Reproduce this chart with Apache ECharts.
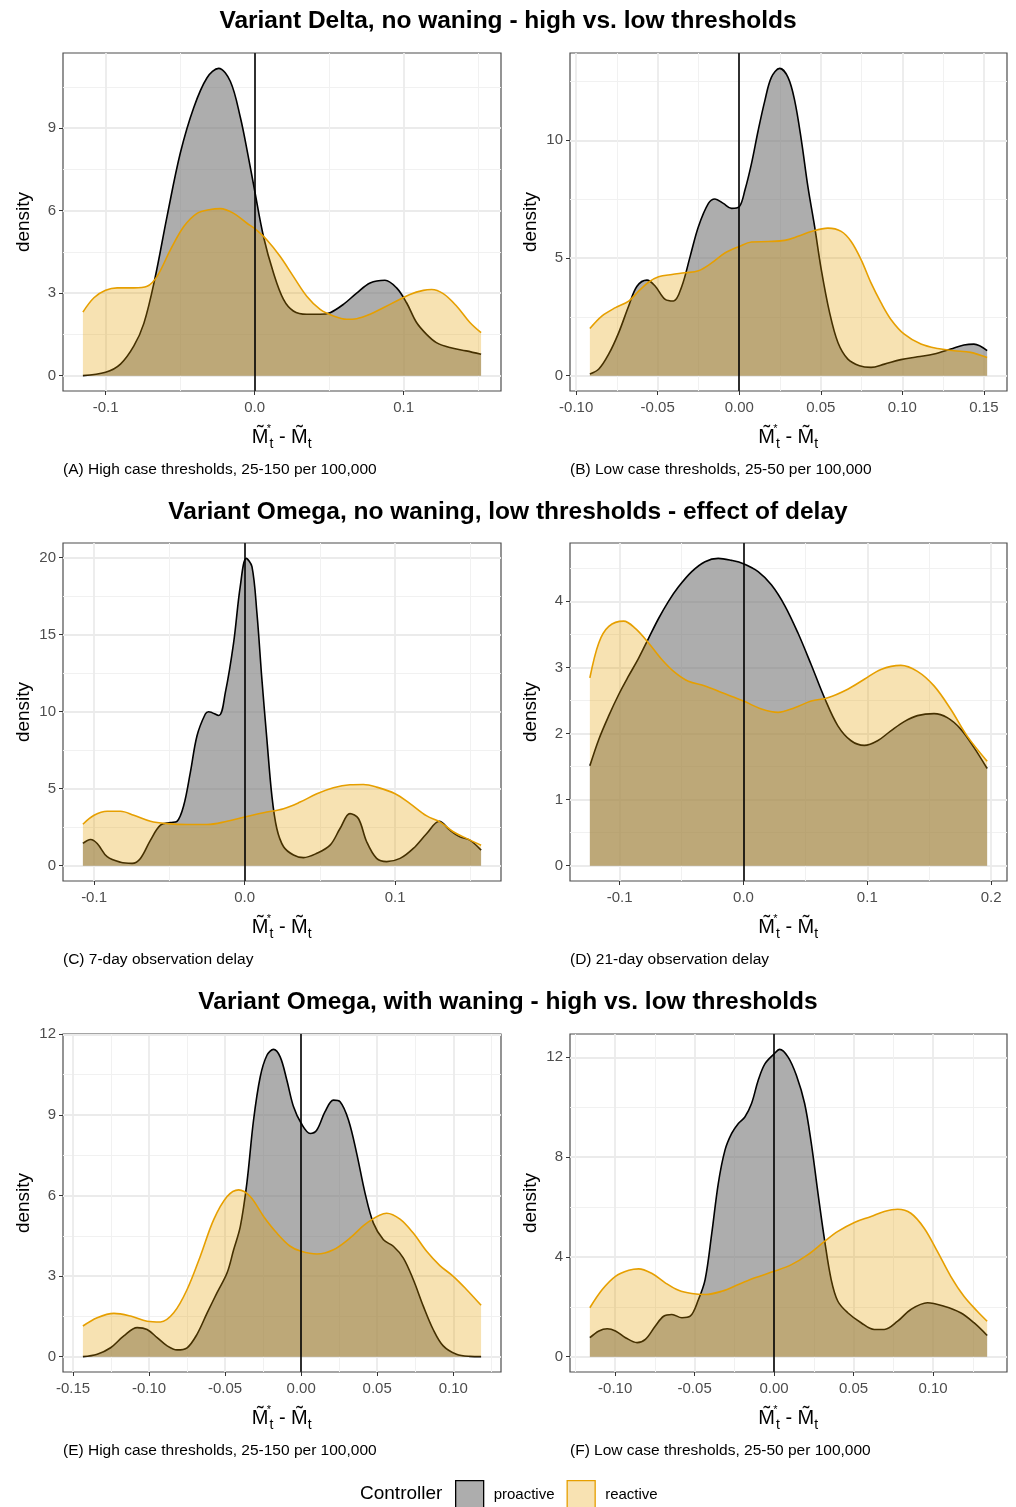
<!DOCTYPE html>
<html><head><meta charset="utf-8">
<script src="https://cdn.jsdelivr.net/npm/echarts@6/dist/echarts.min.js"></script>
<style>html,body{margin:0;padding:0;background:#fff}#c{width:1016px;height:1507px}</style>
</head><body><div id="c"></div>
<script>
// ---------- Data ----------
const sectionTitles = [
  'Variant Delta, no waning - high vs. low thresholds',
  'Variant Omega, no waning, low thresholds - effect of delay',
  'Variant Omega, with waning - high vs. low thresholds'
];
const captions = [
  '(A) High case thresholds, 25-150 per 100,000',
  '(B) Low case thresholds, 25-50 per 100,000',
  '(C) 7-day observation delay',
  '(D) 21-day observation delay',
  '(E) High case thresholds, 25-150 per 100,000',
  '(F) Low case thresholds, 25-50 per 100,000'
];
const controllers = ['proactive', 'reactive'];

// Panel A
const A_proX = [-0.1152,-0.1,-0.09,-0.081,-0.0743,-0.067,-0.0587,-0.0498,-0.0408,-0.0319,-0.0241,-0.0163,-0.0096,-0.004,0,0.006,0.0127,0.0194,0.026,0.035,0.044,0.0507,0.0596,0.0685,0.0775,0.0875,0.0953,0.102,0.1087,0.1154,0.122,0.131,0.142,0.152];
const A_proY = [0,0.12,0.42,1.08,1.9,3.5,5.8,8.1,9.75,10.83,11.17,10.7,9.4,7.9,6.74,5.05,3.73,2.77,2.35,2.23,2.23,2.29,2.59,3.0,3.37,3.47,3.19,2.65,1.93,1.5,1.2,1.02,0.9,0.78];
const A_reaX = [-0.1152,-0.1078,-0.1,-0.0922,-0.081,-0.0721,-0.0654,-0.0565,-0.0475,-0.0386,-0.0297,-0.023,-0.014,-0.0051,0,0.0083,0.0172,0.026,0.035,0.044,0.0529,0.0618,0.0685,0.0775,0.0864,0.0953,0.1042,0.1132,0.1188,0.1266,0.1355,0.1445,0.152];
const A_reaY = [2.31,2.83,3.1,3.19,3.19,3.25,3.61,4.57,5.42,5.9,6.04,6.07,5.9,5.54,5.35,4.93,4.33,3.61,2.89,2.41,2.17,2.05,2.07,2.23,2.47,2.71,2.95,3.1,3.13,2.98,2.53,1.93,1.56];
const A_xTicks = [-0.1, 0, 0.1];
const A_xMinor = [-0.05, 0.05, 0.15];
const A_yTicks = [0, 3, 6, 9];
const A_yMinor = [1.5, 4.5, 7.5, 10.5];

// Panel B
const B_proX = [-0.0916,-0.0861,-0.08,-0.0739,-0.0678,-0.0627,-0.0566,-0.0515,-0.0454,-0.0403,-0.0352,-0.0301,-0.025,-0.0189,-0.0149,-0.0098,-0.0047,0,0.0035,0.0075,0.0116,0.0157,0.0197,0.0248,0.0299,0.034,0.0381,0.0421,0.0462,0.0503,0.0554,0.0605,0.0666,0.0737,0.0808,0.089,0.0991,0.1093,0.1195,0.1297,0.1378,0.1439,0.152];
const B_proY = [0.07,0.28,0.92,1.83,2.96,3.8,4.06,3.8,3.24,3.17,3.8,5.07,6.34,7.32,7.51,7.32,7.11,7.18,7.89,9.01,10.42,11.69,12.68,13.06,12.68,11.69,10.0,8.03,6.34,4.51,2.68,1.41,0.7,0.42,0.35,0.49,0.68,0.8,0.92,1.13,1.3,1.34,1.06];
const B_reaX = [-0.0916,-0.0841,-0.0759,-0.0678,-0.0617,-0.0556,-0.0495,-0.0413,-0.0332,-0.025,-0.0169,-0.0088,0,0.0075,0.0177,0.0279,0.036,0.0442,0.0544,0.0625,0.0686,0.0747,0.0808,0.0869,0.093,0.1012,0.1114,0.1216,0.1317,0.1419,0.152];
const B_reaY = [2.0,2.54,2.89,3.17,3.59,3.97,4.2,4.3,4.37,4.46,4.79,5.21,5.49,5.68,5.7,5.75,5.92,6.13,6.27,6.13,5.7,4.93,3.94,3.1,2.39,1.76,1.34,1.15,1.06,0.99,0.77];
const B_xTicks = [-0.1, -0.05, 0, 0.05, 0.1, 0.15];
const B_xMinor = [-0.075, -0.025, 0.025, 0.075, 0.125];
const B_yTicks = [0, 5, 10];
const B_yMinor = [2.5, 7.5, 12.5];

// Panel C
const C_proX = [-0.1074,-0.1023,-0.0979,-0.0913,-0.0824,-0.0747,-0.0692,-0.0625,-0.0559,-0.0493,-0.0449,-0.0404,-0.036,-0.0316,-0.0261,-0.0239,-0.0172,-0.0128,-0.0073,-0.0029,0.0011,0.0049,0.0082,0.0115,0.0148,0.0181,0.0214,0.0259,0.0325,0.0391,0.048,0.0568,0.0634,0.07,0.0756,0.0811,0.0877,0.0944,0.1033,0.1121,0.121,0.1293,0.1364,0.143,0.1496,0.1571];
const C_proY = [1.44,1.7,1.44,0.58,0.22,0.15,0.47,1.66,2.63,2.8,2.88,3.92,6.07,8.44,9.85,10.0,9.75,11.24,14.47,18.13,19.96,19.42,16.4,12.1,8.22,4.56,2.41,1.23,0.69,0.52,0.8,1.33,2.41,3.38,3.06,1.55,0.47,0.26,0.47,1.12,2.09,2.88,2.3,1.87,1.66,1.01];
const C_reaX = [-0.1074,-0.1,-0.0913,-0.0824,-0.0736,-0.0625,-0.0515,-0.0382,-0.025,-0.0117,0,0.0126,0.0259,0.0369,0.048,0.059,0.07,0.0789,0.0877,0.1,0.1099,0.121,0.1297,0.1386,0.1474,0.1571];
const C_reaY = [2.69,3.27,3.53,3.53,3.27,2.88,2.73,2.67,2.67,2.88,3.16,3.44,3.7,4.13,4.67,5.06,5.25,5.27,5.1,4.67,4.03,3.23,2.84,2.2,1.77,1.33];
const C_xTicks = [-0.1, 0, 0.1];
const C_xMinor = [-0.05, 0.05, 0.15];
const C_yTicks = [0, 5, 10, 15, 20];
const C_yMinor = [2.5, 7.5, 12.5, 17.5];

// Panel D
const D_proX = [-0.1241,-0.1169,-0.1088,-0.1008,-0.0928,-0.0847,-0.0767,-0.0686,-0.0606,-0.0525,-0.0418,-0.0311,-0.0204,-0.0097,0,0.0118,0.0225,0.0332,0.044,0.0547,0.0654,0.0761,0.0869,0.0976,0.1083,0.119,0.1298,0.1405,0.1539,0.1646,0.1753,0.1861,0.1968];
const D_proY = [1.51,1.91,2.27,2.59,2.87,3.14,3.44,3.74,4.0,4.22,4.45,4.6,4.65,4.62,4.57,4.45,4.25,3.94,3.52,3.04,2.54,2.12,1.89,1.82,1.89,2.04,2.18,2.27,2.3,2.24,2.07,1.79,1.47];
const D_reaX = [-0.1241,-0.1169,-0.1088,-0.0968,-0.0874,-0.0767,-0.066,-0.0552,-0.0445,-0.0311,-0.0177,0,0.0145,0.0279,0.0413,0.0547,0.0681,0.0842,0.0976,0.111,0.1271,0.1405,0.1539,0.1673,0.1807,0.1968];
const D_reaY = [2.84,3.37,3.62,3.7,3.59,3.37,3.12,2.92,2.79,2.72,2.62,2.49,2.37,2.32,2.39,2.49,2.54,2.67,2.82,2.97,3.03,2.94,2.72,2.37,1.96,1.58];
const D_xTicks = [-0.1, 0, 0.1, 0.2];
const D_xMinor = [-0.05, 0.05, 0.15];
const D_yTicks = [0, 1, 2, 3, 4];
const D_yMinor = [0.5, 1.5, 2.5, 3.5, 4.5];

// Panel E
const E_proX = [-0.1435,-0.1341,-0.1253,-0.1166,-0.1078,-0.1013,-0.0947,-0.0881,-0.0816,-0.075,-0.0685,-0.0618,-0.0553,-0.0487,-0.0444,-0.04,-0.0357,-0.0313,-0.0269,-0.0225,-0.0182,-0.0138,-0.0094,-0.005,0,0.0059,0.0103,0.0157,0.0212,0.0256,0.0311,0.0365,0.042,0.0475,0.0541,0.0606,0.0672,0.0737,0.0803,0.0868,0.0934,0.1021,0.1109,0.1183];
const E_proY = [0,0.09,0.33,0.77,1.08,1.01,0.71,0.4,0.25,0.33,0.83,1.63,2.38,3.12,3.98,4.85,6.46,8.81,10.42,11.22,11.44,11.16,10.29,9.3,8.69,8.31,8.44,9.12,9.55,9.49,8.81,7.57,6.09,4.97,4.35,4.11,3.67,2.87,1.88,1.01,0.4,0.09,0.01,0];
const E_reaX = [-0.1435,-0.1341,-0.1231,-0.1122,-0.1013,-0.0925,-0.0838,-0.075,-0.0663,-0.0575,-0.0487,-0.0411,-0.0335,-0.0247,-0.016,-0.0072,0,0.0103,0.0212,0.0322,0.0431,0.0562,0.065,0.0737,0.0825,0.0912,0.1,0.1087,0.1183];
const E_reaY = [1.14,1.45,1.61,1.51,1.32,1.29,1.63,2.5,3.74,5.1,5.96,6.21,5.96,5.22,4.6,4.11,3.92,3.82,3.98,4.42,4.97,5.34,5.12,4.6,3.92,3.39,2.99,2.5,1.91];
const E_xTicks = [-0.15, -0.1, -0.05, 0, 0.05, 0.1];
const E_xMinor = [-0.125, -0.075, -0.025, 0.025, 0.075, 0.125];
const E_yTicks = [0, 3, 6, 9, 12];
const E_yMinor = [1.5, 4.5, 7.5, 10.5];

// Panel F
const F_proX = [-0.1159,-0.1102,-0.105,-0.0998,-0.0935,-0.0862,-0.081,-0.0747,-0.0695,-0.0643,-0.058,-0.0528,-0.0476,-0.0434,-0.0392,-0.0351,-0.0309,-0.0267,-0.0225,-0.0184,-0.0142,-0.01,-0.0058,0,0.0035,0.0088,0.014,0.0192,0.0234,0.0276,0.0317,0.0359,0.0401,0.0463,0.0547,0.063,0.0693,0.0777,0.086,0.0965,0.1069,0.1173,0.1257,0.134];
const F_proY = [0.76,1.03,1.12,1.03,0.76,0.56,0.69,1.23,1.62,1.69,1.56,1.62,2.29,3.09,4.95,6.95,8.28,8.95,9.35,9.61,10.15,11.08,11.74,12.14,12.32,12.01,11.28,10.15,8.55,6.55,4.69,3.09,2.22,1.76,1.36,1.09,1.09,1.42,1.89,2.16,2.02,1.76,1.36,0.85];
const F_reaX = [-0.1159,-0.1081,-0.0998,-0.0914,-0.0852,-0.0768,-0.0685,-0.0601,-0.0518,-0.0434,-0.033,-0.0225,-0.0121,0,0.0109,0.0213,0.0317,0.0401,0.0505,0.061,0.0693,0.0777,0.086,0.0944,0.1027,0.1111,0.1194,0.1278,0.134];
const F_reaY = [1.96,2.69,3.22,3.46,3.52,3.33,2.96,2.66,2.53,2.49,2.62,2.89,3.16,3.42,3.69,4.09,4.62,5.02,5.38,5.62,5.82,5.91,5.75,5.15,4.22,3.22,2.42,1.82,1.42];
const F_xTicks = [-0.1, -0.05, 0, 0.05, 0.1];
const F_xMinor = [-0.125, -0.075, -0.025, 0.025, 0.075, 0.125];
const F_yTicks = [0, 4, 8, 12];
const F_yMinor = [2, 6, 10];

// ---------- Build ----------
const FONT = '"Liberation Sans", Arial, Helvetica, sans-serif';
const panels = [
  {proX:A_proX, proY:A_proY, reaX:A_reaX, reaY:A_reaY, xT:A_xTicks, xM:A_xMinor, yT:A_yTicks, yM:A_yMinor, dec:1},
  {proX:B_proX, proY:B_proY, reaX:B_reaX, reaY:B_reaY, xT:B_xTicks, xM:B_xMinor, yT:B_yTicks, yM:B_yMinor, dec:2},
  {proX:C_proX, proY:C_proY, reaX:C_reaX, reaY:C_reaY, xT:C_xTicks, xM:C_xMinor, yT:C_yTicks, yM:C_yMinor, dec:1},
  {proX:D_proX, proY:D_proY, reaX:D_reaX, reaY:D_reaY, xT:D_xTicks, xM:D_xMinor, yT:D_yTicks, yM:D_yMinor, dec:1},
  {proX:E_proX, proY:E_proY, reaX:E_reaX, reaY:E_reaY, xT:E_xTicks, xM:E_xMinor, yT:E_yTicks, yM:E_yMinor, dec:2},
  {proX:F_proX, proY:F_proY, reaX:F_reaX, reaY:F_reaY, xT:F_xTicks, xM:F_xMinor, yT:F_yTicks, yM:F_yMinor, dec:2}
];
const colLeft = [63, 570], colWidth = [438, 437];
const rowTop = [53, 543, 1034], plotH = 338;

function zip(xs, ys) { return xs.map((x, i) => [x, ys[i]]); }
function expand(arrs) {
  let mn = Infinity, mx = -Infinity;
  arrs.forEach(a => a.forEach(v => { mn = Math.min(mn, v); mx = Math.max(mx, v); }));
  const d = (mx - mn) * 0.05;
  return [mn - d, mx + d];
}

const grid = [], xAxis = [], yAxis = [], series = [], title = [];
const tickColor = '#333333', labColor = '#4D4D4D';
const majorGrid = {color: '#EBEBEB', width: 1.8};
const minorGrid = {color: '#F1F1F1', width: 1};
const xNameRich = {
  m: {fontSize: 20, fontFamily: FONT, color: '#000', lineHeight: 22, verticalAlign: 'middle'},
  st: {fontSize: 11, fontFamily: FONT, color: '#000', lineHeight: 11, verticalAlign: 'top', width: 1},
  s: {fontSize: 14, fontFamily: FONT, color: '#000', lineHeight: 13, verticalAlign: 'bottom'},
  h: {fontSize: 2, lineHeight: 28}
};
const xName = '{m|M\u0303}{st|*}{s|t}{m| - M\u0303}{s|t}{h| }';

panels.forEach((p, i) => {
  const col = i % 2, row = Math.floor(i / 2);
  const xl = expand([p.proX, p.reaX]);
  const yl = expand([[0], p.proY, p.reaY]);
  grid.push({left: colLeft[col], top: rowTop[row], width: colWidth[col], height: plotH,
    show: true, backgroundColor: '#fff', borderColor: '#4D4D4D', borderWidth: 1.2,
    containLabel: false, outerBoundsMode: 'none'});
  // major x
  xAxis.push({gridIndex: i, type: 'value', position: 'bottom', min: xl[0], max: xl[1],
    axisLine: {show: false, onZero: false},
    axisTick: {show: true, length: 4, customValues: p.xT, lineStyle: {color: tickColor, width: 1}},
    axisLabel: {customValues: p.xT, formatter: v => v.toFixed(p.dec), color: labColor, fontSize: 15, fontFamily: FONT, margin: 9},
    splitLine: {show: true, lineStyle: majorGrid},
    name: xName, nameLocation: 'middle', nameGap: 32, nameMoveOverlap: false,
    nameTextStyle: {rich: xNameRich}});
  // minor x (gridlines only)
  xAxis.push({gridIndex: i, type: 'value', position: 'top', min: xl[0], max: xl[1],
    axisLine: {show: false, onZero: false},
    axisTick: {show: false, customValues: p.xM},
    axisLabel: {show: false, customValues: p.xM},
    splitLine: {show: true, lineStyle: minorGrid}});
  // major y
  yAxis.push({gridIndex: i, type: 'value', position: 'left', min: yl[0], max: yl[1],
    axisLine: {show: false, onZero: false},
    axisTick: {show: true, length: 4, customValues: p.yT, lineStyle: {color: tickColor, width: 1}},
    axisLabel: {customValues: p.yT, formatter: v => String(v), color: labColor, fontSize: 15, fontFamily: FONT, margin: 7},
    splitLine: {show: true, lineStyle: majorGrid},
    name: 'density', nameLocation: 'middle', nameGap: 30, nameRotate: 90, nameMoveOverlap: false,
    nameTextStyle: {fontSize: 19, color: '#000', fontFamily: FONT}});
  // minor y
  yAxis.push({gridIndex: i, type: 'value', position: 'right', min: yl[0], max: yl[1],
    axisLine: {show: false, onZero: false},
    axisTick: {show: false, customValues: p.yM},
    axisLabel: {show: false, customValues: p.yM},
    splitLine: {show: true, lineStyle: minorGrid}});

  series.push({type: 'line', name: controllers[0], xAxisIndex: 2 * i, yAxisIndex: 2 * i,
    data: zip(p.proX, p.proY), smooth: 0.35, showSymbol: false, symbol: 'none', silent: true,
    lineStyle: {color: '#000', width: 1.6}, itemStyle: {color: '#ADADAD'},
    areaStyle: {color: '#767676', opacity: 0.6}, z: 2, animation: false});
  series.push({type: 'line', name: controllers[1], xAxisIndex: 2 * i, yAxisIndex: 2 * i,
    data: zip(p.reaX, p.reaY), smooth: 0.35, showSymbol: false, symbol: 'none', silent: true,
    lineStyle: {color: '#E69F00', width: 1.6}, itemStyle: {color: '#F8E2B2'},
    areaStyle: {color: '#E69F00', opacity: 0.3}, z: 3, animation: false,
    markLine: {silent: true, symbol: ['none', 'none'], label: {show: false}, animation: false,
      lineStyle: {color: '#000', width: 1.6, type: 'solid'}, emphasis: {disabled: true},
      data: [{xAxis: 0}]}});

  title.push({text: captions[i], left: colLeft[col], top: rowTop[row] + plotH + 71, padding: 0,
    textStyle: {fontSize: 15.5, fontWeight: 'normal', color: '#000', fontFamily: FONT}});
});

const sectionTops = [9, 500, 990];
sectionTitles.forEach((t, k) => {
  title.push({text: t, left: 'center', top: sectionTops[k], padding: 0,
    textStyle: {fontSize: 24.5, fontWeight: 'bold', color: '#000', fontFamily: FONT}});
});
title.push({text: 'Controller', left: 360, top: 1484, padding: 0,
  textStyle: {fontSize: 19, fontWeight: 'normal', color: '#000', fontFamily: FONT}});

const chart = echarts.init(document.getElementById('c'), null, {renderer: 'canvas'});
chart.setOption({
  animation: false,
  backgroundColor: '#fff',
  title, grid, xAxis, yAxis, series,
  legend: {left: 455, top: 1480, orient: 'horizontal', itemWidth: 28, itemHeight: 28, itemGap: 12,
    selectedMode: false, padding: 0,
    textStyle: {fontSize: 15, color: '#000', fontFamily: FONT, padding: [0, 0, 0, 5]},
    data: [
      {name: controllers[0], icon: 'rect', itemStyle: {color: '#ADADAD', borderColor: '#000', borderWidth: 1.3}},
      {name: controllers[1], icon: 'rect', itemStyle: {color: '#F8E2B2', borderColor: '#E69F00', borderWidth: 1.3}}
    ]}
});
</script></body></html>
